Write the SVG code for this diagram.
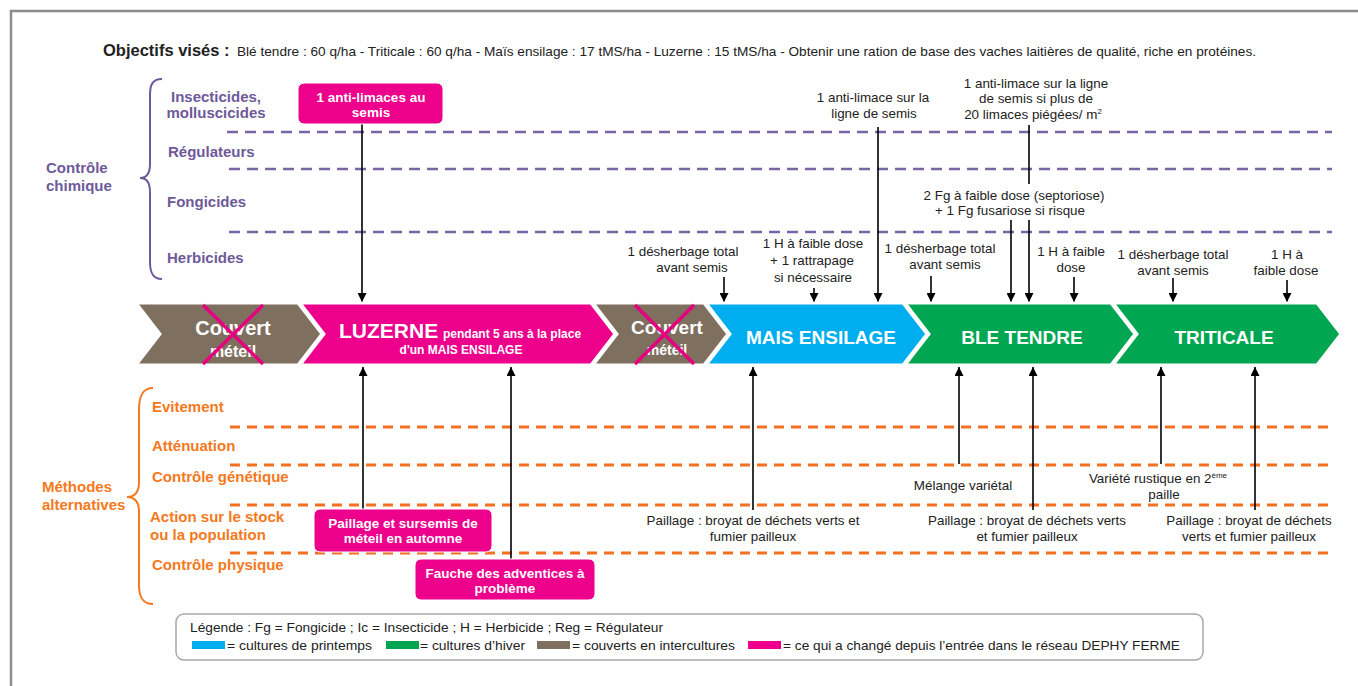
<svg xmlns="http://www.w3.org/2000/svg" width="1358" height="686" viewBox="0 0 1358 686">
<defs>
<marker id="ah" viewBox="0 0 10 10" refX="10" refY="5" markerWidth="9" markerHeight="9" orient="auto" markerUnits="userSpaceOnUse"><path d="M0,0 L10,5 L0,10 z" fill="#000"/></marker>
<style>
text{font-family:"Liberation Sans",Arial,sans-serif}
.t{font-size:13.4px;fill:#222;text-anchor:middle}
.lg{font-size:13.5px;fill:#222}
.pl{font-size:15px;font-weight:bold;fill:#6e5a99}
.ol{font-size:15px;font-weight:bold;fill:#f47920}
.pd{stroke:#7866a4;stroke-width:2.5;stroke-dasharray:11 7;fill:none}
.od{stroke:#f36f21;stroke-width:3;stroke-dasharray:10 7;fill:none}
.ar{stroke:#000;stroke-width:1.6;fill:none;marker-end:url(#ah)}
.ln{stroke:#000;stroke-width:1.6;fill:none}
.bx{fill:#ec008c;stroke:#fff;stroke-width:1}
.wb{fill:#fff;font-weight:bold;text-anchor:middle}
.ch{stroke:#fff;stroke-width:3}
.x{stroke:#e6007e;stroke-width:3.5;fill:none}
</style>
</defs>
<rect x="0" y="0" width="1358" height="686" fill="#fff"/>
<rect x="11" y="11" width="1370" height="700" fill="#fff" stroke="#8c8c8c" stroke-width="2.5"/>

<g id="header">
<text x="103" y="56" style="font-size:16.5px;font-weight:bold;fill:#222">Objectifs visés :</text>
<text x="237" y="56" style="font-size:13px;fill:#222" textLength="1019" lengthAdjust="spacingAndGlyphs">Blé tendre : 60 q/ha - Triticale : 60 q/ha - Maïs ensilage : 17 tMS/ha - Luzerne : 15 tMS/ha - Obtenir une ration de base des vaches laitières de qualité, riche en protéines.</text>
</g>

<g id="chimique">
<path d="M162,79 C153,79 150,84 150,95 L150,164 C150,173 147,178 140,178 C147,178 150,183 150,192 L150,262 C150,273 153,279 162,279" fill="none" stroke="#6e5a99" stroke-width="2"/>
<text class="pl" x="46" y="173">Contrôle</text>
<text class="pl" x="46" y="191">chimique</text>
<text class="pl" x="216" y="102" text-anchor="middle">Insecticides,</text>
<text class="pl" x="216" y="118" text-anchor="middle">molluscicides</text>
<text class="pl" x="168" y="157">Régulateurs</text>
<text class="pl" x="167" y="207">Fongicides</text>
<text class="pl" x="167" y="263">Herbicides</text>
<line class="pd" x1="227" y1="132" x2="1332" y2="132"/>
<line class="pd" x1="229" y1="169" x2="1332" y2="169"/>
<line class="pd" x1="229" y1="232" x2="1332" y2="232"/>
</g>

<g id="alternatives">
<path d="M153,388 C143,388 139,395 139,410 L139,482 C139,492 135,497 127,497 C135,497 139,502 139,512 L139,585 C139,598 143,604 153,604" fill="none" stroke="#f47920" stroke-width="2"/>
<text class="ol" x="42" y="492">Méthodes</text>
<text class="ol" x="42" y="510">alternatives</text>
<text class="ol" x="152" y="412">Evitement</text>
<text class="ol" x="152" y="451">Atténuation</text>
<text class="ol" x="152" y="482">Contrôle génétique</text>
<text class="ol" x="150" y="522">Action sur le stock</text>
<text class="ol" x="150" y="540">ou la population</text>
<text class="ol" x="152" y="570">Contrôle physique</text>
<line class="od" x1="230" y1="427" x2="1333" y2="427"/>
<line class="od" x1="230" y1="465" x2="1333" y2="465"/>
<line class="od" x1="230" y1="505" x2="1333" y2="505"/>
<line class="od" x1="230" y1="553" x2="1333" y2="553"/>
</g>

<g id="connectors">
<line class="ar" x1="362" y1="124" x2="362" y2="302"/>
<line class="ar" x1="724" y1="277" x2="724" y2="302"/>
<line class="ar" x1="814" y1="288" x2="814" y2="302"/>
<line class="ar" x1="878" y1="127" x2="878" y2="302"/>
<line class="ar" x1="931" y1="276" x2="931" y2="302"/>
<line class="ln" x1="1029" y1="125" x2="1029" y2="184"/>
<line class="ar" x1="1029" y1="220" x2="1029" y2="302"/>
<line class="ar" x1="1011" y1="220" x2="1011" y2="302"/>
<line class="ar" x1="1074" y1="277" x2="1074" y2="302"/>
<line class="ar" x1="1173" y1="278" x2="1173" y2="302"/>
<line class="ar" x1="1287" y1="280" x2="1287" y2="302"/>
<line class="ar" x1="363" y1="509" x2="363" y2="367"/>
<line class="ar" x1="511" y1="559" x2="511" y2="367"/>
<line class="ar" x1="753" y1="510" x2="753" y2="367"/>
<line class="ar" x1="959" y1="464" x2="959" y2="367"/>
<line class="ar" x1="1033" y1="510" x2="1033" y2="367"/>
<line class="ar" x1="1161" y1="464" x2="1161" y2="367"/>
<line class="ar" x1="1255" y1="510" x2="1255" y2="367"/>
</g>

<g id="box-antilimaces">
<rect class="bx" x="298" y="83" width="145" height="41" rx="6"/>
<text class="wb" x="371" y="102" style="font-size:13.5px">1 anti-limaces au</text>
<text class="wb" x="371" y="117" style="font-size:13.5px">semis</text>
</g>
<g id="box-paillage">
<rect class="bx" x="314" y="509" width="178" height="43" rx="6"/>
<text class="wb" x="403" y="528" style="font-size:13.5px">Paillage et sursemis de</text>
<text class="wb" x="403" y="543" style="font-size:13.5px">méteil en automne</text>
</g>
<g id="box-fauche">
<rect class="bx" x="415" y="559" width="180" height="41" rx="6"/>
<text class="wb" x="505" y="578" style="font-size:13.5px">Fauche des adventices à</text>
<text class="wb" x="505" y="593" style="font-size:13.5px">problème</text>
</g>

<g id="couvert1">
<path class="ch" fill="#7f6f5f" d="M136,303 L298,303 L322,334 L298,365 L136,365 L160,334 Z"/>
<text class="wb" x="233" y="335" style="font-size:20px">Couvert</text>
<text class="wb" x="233" y="357" style="font-size:16px">méteil</text>
<path class="x" d="M203,305 L263,364 M263,305 L203,364"/>
</g>
<g id="luzerne">
<path class="ch" fill="#ec008c" d="M300,303 L591,303 L615,334 L591,365 L300,365 L324,334 Z"/>
<text x="339" y="338" style="font-size:21px;font-weight:bold;fill:#fff">LUZERNE</text>
<text x="443" y="338" style="font-size:12px;font-weight:bold;fill:#fff">pendant 5 ans  à la place</text>
<text class="wb" x="461" y="354" style="font-size:12px">d'un MAIS ENSILAGE</text>
</g>
<g id="couvert2">
<path class="ch" fill="#7f6f5f" d="M593,303 L704,303 L728,334 L704,365 L593,365 L617,334 Z"/>
<text class="wb" x="667" y="334" style="font-size:19px">Couvert</text>
<text class="wb" x="667" y="355" style="font-size:14px">méteil</text>
<path class="x" d="M635,305 L694,364 M694,305 L635,364"/>
</g>
<g id="mais">
<path class="ch" fill="#00aeef" d="M706,303 L903,303 L927,334 L903,365 L706,365 L730,334 Z"/>
<text class="wb" x="821" y="344" style="font-size:19px">MAIS ENSILAGE</text>
</g>
<g id="ble">
<path class="ch" fill="#00a651" d="M905,303 L1111,303 L1135,334 L1111,365 L905,365 L929,334 Z"/>
<text class="wb" x="1022" y="344" style="font-size:19px">BLE TENDRE</text>
</g>
<g id="triticale">
<path class="ch" fill="#00a651" d="M1113,303 L1317,303 L1341,334 L1317,365 L1113,365 L1137,334 Z"/>
<text class="wb" x="1224" y="344" style="font-size:19px">TRITICALE</text>
</g>

<g id="ann-top">
<text class="t" x="683" y="256">1 désherbage total</text>
<text class="t" x="692" y="272">avant semis</text>
<text class="t" x="813" y="248">1 H à faible dose</text>
<text class="t" x="812" y="265">+ 1 rattrapage</text>
<text class="t" x="813" y="282">si nécessaire</text>
<text class="t" x="873" y="102">1 anti-limace sur la</text>
<text class="t" x="874" y="118">ligne de semis</text>
<text class="t" x="940" y="253">1 désherbage total</text>
<text class="t" x="945" y="269">avant semis</text>
<text class="t" x="1036" y="88">1 anti-limace sur la ligne</text>
<text class="t" x="1036" y="103">de semis si plus de</text>
<text class="t" x="1033" y="119">20 limaces piégées/ m<tspan dy="-5" style="font-size:8px">2</tspan></text>
<text class="t" x="1014" y="200">2 Fg à faible dose (septoriose)</text>
<text class="t" x="1010" y="215">+ 1 Fg fusariose si risque</text>
<text class="t" x="1071" y="256">1 H à faible</text>
<text class="t" x="1071" y="272">dose</text>
<text class="t" x="1173" y="259">1 désherbage total</text>
<text class="t" x="1173" y="275">avant semis</text>
<text class="t" x="1287" y="259">1 H à</text>
<text class="t" x="1286" y="275">faible dose</text>
</g>

<g id="ann-bottom">
<text class="t" x="753" y="525">Paillage : broyat de déchets verts et</text>
<text class="t" x="753" y="541">fumier pailleux</text>
<text class="t" x="963" y="490">Mélange variétal</text>
<text class="t" x="1158" y="483">Variété rustique en 2<tspan dy="-5" style="font-size:8px">ème</tspan></text>
<text class="t" x="1164" y="499">paille</text>
<text class="t" x="1027" y="525">Paillage : broyat de déchets verts</text>
<text class="t" x="1027" y="541">et fumier pailleux</text>
<text class="t" x="1249" y="525">Paillage : broyat de déchets</text>
<text class="t" x="1249" y="541">verts et fumier pailleux</text>
</g>

<g id="legend">
<rect x="176" y="614" width="1027" height="46" rx="8" fill="#fff" stroke="#a8a8a8" stroke-width="1.5"/>
<text class="lg" x="190" y="632" textLength="473" lengthAdjust="spacingAndGlyphs">Légende : Fg = Fongicide ; Ic = Insecticide ; H = Herbicide ; Reg = Régulateur</text>
<rect x="192" y="641" width="33" height="8" fill="#00aeef"/>
<text class="lg" x="227" y="650" textLength="145" lengthAdjust="spacingAndGlyphs">= cultures de printemps</text>
<rect x="386" y="641" width="33" height="8" fill="#00a651"/>
<text class="lg" x="420" y="650" textLength="105" lengthAdjust="spacingAndGlyphs">= cultures d’hiver</text>
<rect x="537" y="641" width="33" height="8" fill="#7f6f5f"/>
<text class="lg" x="572" y="650" textLength="163" lengthAdjust="spacingAndGlyphs">= couverts en intercultures</text>
<rect x="748" y="641" width="33" height="8" fill="#ec008c"/>
<text class="lg" x="783" y="650" textLength="397" lengthAdjust="spacingAndGlyphs">= ce qui a changé depuis l’entrée dans le réseau DEPHY FERME</text>
</g>
</svg>
